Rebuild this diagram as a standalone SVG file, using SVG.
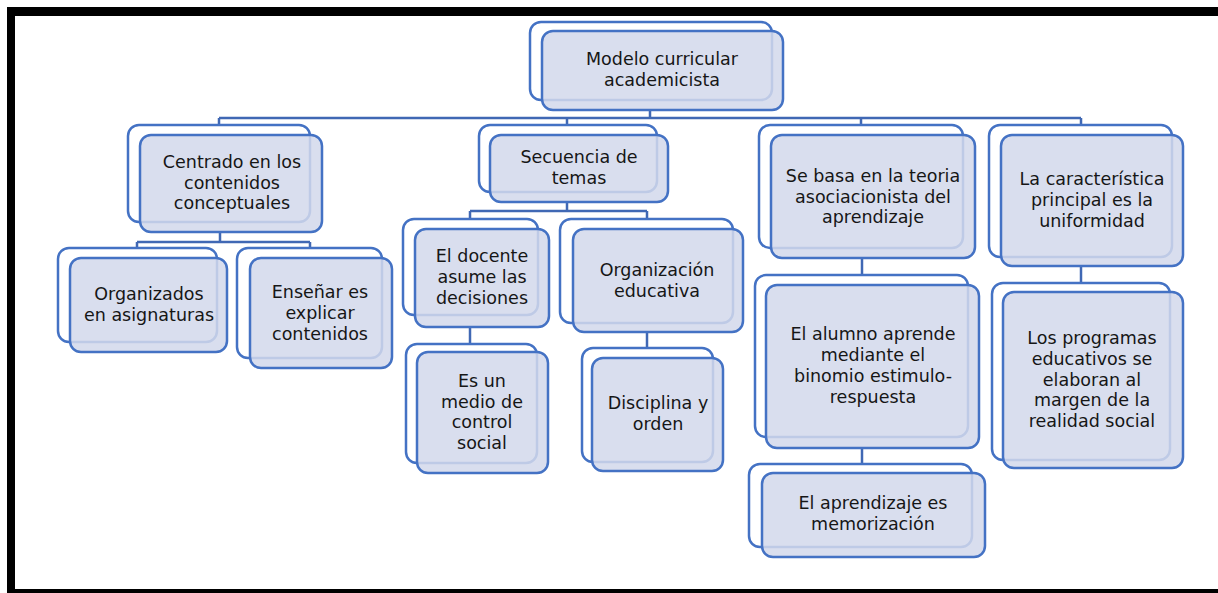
<svg xmlns="http://www.w3.org/2000/svg" width="1218" height="593" viewBox="0 0 1218 593">
<style>
.back{fill:#ffffff;stroke:#4472c4;stroke-width:2.5}
.front{fill:#d3d8eb;fill-opacity:0.86;stroke:#4472c4;stroke-width:2.5}
.conn{fill:none;stroke:#4068b4;stroke-width:2.5}
text{font-family:"DejaVu Sans",sans-serif;font-size:17.5px;fill:#161616;text-anchor:middle}
</style>
<rect x="0" y="0" width="1218" height="593" fill="#ffffff"/>
<g id="frame" fill="#000000">
<rect x="7" y="7" width="1211" height="9"/>
<rect x="7" y="7" width="8" height="586"/>
<rect x="7" y="589" width="1211" height="4"/>
</g>
<g id="connectors" class="conn">
<path d="M650 110V118M219 118H1081M219 118V125M567 118V125M861 118V125M1081 118V125"/>
<path d="M220 232V242M137 242H310M137 242V248M310 242V248"/>
<path d="M567 202V211M470 211H647M470 211V219M647 211V219"/>
<path d="M470 327V344"/>
<path d="M647 332V348"/>
<path d="M862 258V275"/>
<path d="M862 448V464"/>
<path d="M1081 266V283"/>
</g>
<g id="n0">
<rect class="back" x="530" y="22" width="242" height="78" rx="11"/>
<rect class="front" x="542" y="31" width="241" height="79" rx="11"/>
<text x="662" y="65"><tspan x="662">Modelo curricular</tspan><tspan x="662" dy="21">academicista</tspan></text>
</g>
<g id="n1">
<rect class="back" x="128" y="125" width="182" height="97" rx="11"/>
<rect class="front" x="140" y="135" width="182" height="97" rx="11"/>
<text x="232" y="168"><tspan x="232">Centrado en los</tspan><tspan x="232" dy="20.6">contenidos</tspan><tspan x="232" dy="20.6">conceptuales</tspan></text>
</g>
<g id="n1a">
<rect class="back" x="58" y="248" width="159" height="94" rx="11"/>
<rect class="front" x="70" y="258" width="157" height="94" rx="11"/>
<text x="149" y="300"><tspan x="149">Organizados</tspan><tspan x="149" dy="21">en asignaturas</tspan></text>
</g>
<g id="n1b">
<rect class="back" x="237" y="248" width="145" height="110" rx="11"/>
<rect class="front" x="250" y="258" width="142" height="110" rx="11"/>
<text x="320" y="298"><tspan x="320">Enseñar es</tspan><tspan x="320" dy="21">explicar</tspan><tspan x="320" dy="21">contenidos</tspan></text>
</g>
<g id="n2">
<rect class="back" x="479" y="125" width="178" height="67" rx="11"/>
<rect class="front" x="490" y="135" width="178" height="67" rx="11"/>
<text x="579" y="163"><tspan x="579">Secuencia de</tspan><tspan x="579" dy="21">temas</tspan></text>
</g>
<g id="n2a">
<rect class="back" x="403" y="219" width="135" height="96" rx="11"/>
<rect class="front" x="415" y="229" width="134" height="98" rx="11"/>
<text x="482" y="262"><tspan x="482">El docente</tspan><tspan x="482" dy="21">asume las</tspan><tspan x="482" dy="21">decisiones</tspan></text>
</g>
<g id="n2a1">
<rect class="back" x="406" y="344" width="131" height="119" rx="11"/>
<rect class="front" x="417" y="352" width="131" height="121" rx="11"/>
<text x="482" y="387"><tspan x="482">Es un</tspan><tspan x="482" dy="20.7">medio de</tspan><tspan x="482" dy="20.7">control</tspan><tspan x="482" dy="20.7">social</tspan></text>
</g>
<g id="n2b">
<rect class="back" x="560" y="219" width="173" height="104" rx="11"/>
<rect class="front" x="573" y="229" width="170" height="103" rx="11"/>
<text x="657" y="276"><tspan x="657">Organización</tspan><tspan x="657" dy="21">educativa</tspan></text>
</g>
<g id="n2b1">
<rect class="back" x="582" y="348" width="131" height="114" rx="11"/>
<rect class="front" x="592" y="358" width="131" height="113" rx="11"/>
<text x="658" y="409"><tspan x="658">Disciplina y</tspan><tspan x="658" dy="21">orden</tspan></text>
</g>
<g id="n3">
<rect class="back" x="759" y="125" width="204" height="123" rx="11"/>
<rect class="front" x="771" y="135" width="204" height="123" rx="11"/>
<text x="873" y="182"><tspan x="873">Se basa en la teoria</tspan><tspan x="873" dy="20.7">asociacionista del</tspan><tspan x="873" dy="20.7">aprendizaje</tspan></text>
</g>
<g id="n3a">
<rect class="back" x="755" y="275" width="213" height="162" rx="11"/>
<rect class="front" x="766" y="285" width="213" height="163" rx="11"/>
<text x="873" y="340"><tspan x="873">El alumno aprende</tspan><tspan x="873" dy="21">mediante el</tspan><tspan x="873" dy="21">binomio estimulo-</tspan><tspan x="873" dy="21">respuesta</tspan></text>
</g>
<g id="n3a1">
<rect class="back" x="749" y="464" width="223" height="83" rx="11"/>
<rect class="front" x="762" y="473" width="223" height="84" rx="11"/>
<text x="873" y="509"><tspan x="873">El aprendizaje es</tspan><tspan x="873" dy="21">memorización</tspan></text>
</g>
<g id="n4">
<rect class="back" x="989" y="125" width="183" height="132" rx="11"/>
<rect class="front" x="1001" y="135" width="182" height="131" rx="11"/>
<text x="1092" y="185"><tspan x="1092">La característica</tspan><tspan x="1092" dy="21">principal es la</tspan><tspan x="1092" dy="21">uniformidad</tspan></text>
</g>
<g id="n4a">
<rect class="back" x="992" y="283" width="178" height="177" rx="11"/>
<rect class="front" x="1003" y="292" width="180" height="176" rx="11"/>
<text x="1092" y="344"><tspan x="1092">Los programas</tspan><tspan x="1092" dy="20.8">educativos se</tspan><tspan x="1092" dy="20.8">elaboran al</tspan><tspan x="1092" dy="20.8">margen de la</tspan><tspan x="1092" dy="20.8">realidad social</tspan></text>
</g>
</svg>
